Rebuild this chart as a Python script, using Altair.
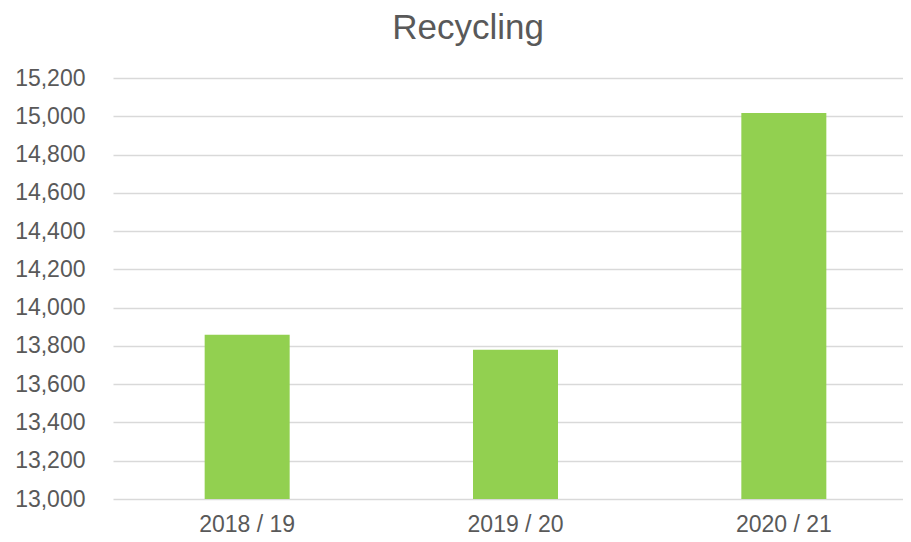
import altair as alt
import pandas as pd

years = ["2018 / 19", "2019 / 20", "2020 / 21"]
values = [13858, 13780, 15017]

df = pd.DataFrame({"year": years, "value": values})

FONT = "Liberation Sans"
TXT = "#595959"

chart = (
    alt.Chart(df)
    .mark_bar(color="#92D050", size=85, clip=True)
    .encode(
        x=alt.X("year:N", sort=years, title=None,
                scale=alt.Scale(paddingInner=0, paddingOuter=0, range=[0, 805]),
                axis=alt.Axis(labelAngle=0, labelFontSize=23, labelColor=TXT,
                              labelFont=FONT, ticks=False, domain=False,
                              labelPadding=14, grid=False)),
        y=alt.Y("value:Q", title=None,
                scale=alt.Scale(domain=[13000, 15200], zero=False, nice=False),
                axis=alt.Axis(values=list(range(13000, 15201, 200)), format=",d",
                              labelFontSize=23, labelColor=TXT, labelFont=FONT,
                              ticks=False, domain=False, labelPadding=28,
                              gridColor="#D9D9D9", gridWidth=1.5)),
    )
    .properties(
        width=790,
        height=421,
        title=alt.TitleParams("Recycling", fontSize=35, font=FONT, color=TXT,
                              fontWeight="normal", anchor="middle", dx=-40, offset=21),
        autosize=alt.AutoSizeParams(type="none"),
        padding={"left": 105, "top": 70, "right": 0, "bottom": 40},
    )
    .configure_view(stroke=None)
)

chart.save("out.html", embed_options={"renderer": "svg", "actions": False})
